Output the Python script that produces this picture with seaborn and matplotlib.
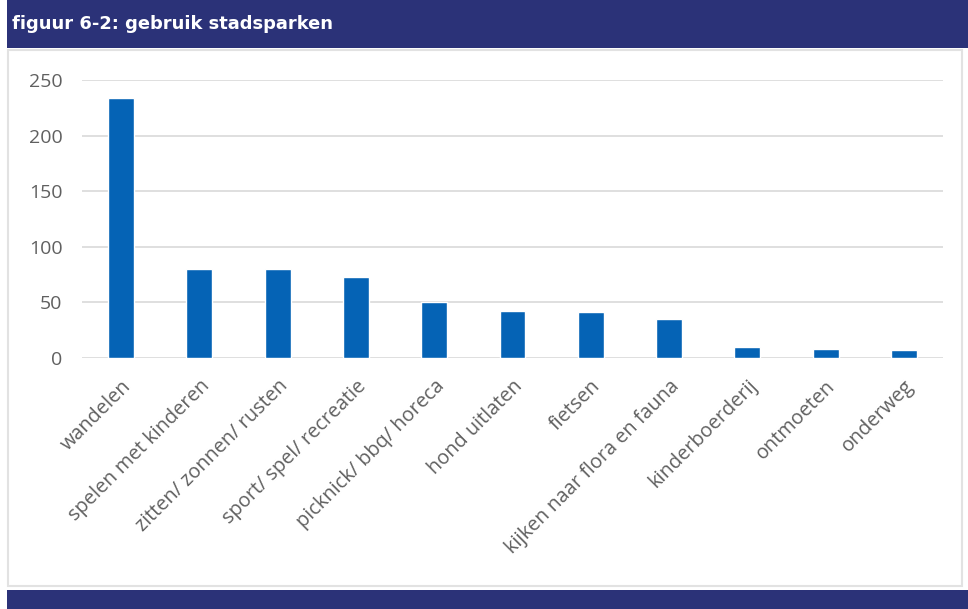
import matplotlib
matplotlib.use("Agg")
import matplotlib.pyplot as plt
import seaborn as sns
import pandas as pd
from matplotlib.patches import Rectangle

# Park usage counts per activity
activities = [
    "wandelen", "spelen met kinderen", "zitten/ zonnen/ rusten",
    "sport/ spel/ recreatie", "picknick/ bbq/ horeca", "hond uitlaten",
    "fietsen", "kijken naar flora en fauna", "kinderboerderij",
    "ontmoeten", "onderweg",
]
counts = [234, 80, 80, 73, 50, 42, 41, 35, 10, 8, 7]
y_ticks = [0, 50, 100, 150, 200, 250]

title = "figuur 6-2: gebruik stadsparken"

BANNER = "#2b3278"
BAR = "#0563b5"
TEXT = "#606060"
GRID = "#d9d9d9"

sns.set_theme(style="white")
plt.rcParams["font.family"] = ["Open Sans", "DejaVu Sans"]

df = pd.DataFrame({"activiteit": activities, "aantal": counts})

fig = plt.figure(figsize=(9.68, 6.09), dpi=100)
fig.patch.set_facecolor("white")

W, H = 968, 609
# Header and footer bands
fig.add_artist(Rectangle((7 / W, 1 - 48 / H), 1 - 7 / W, 48 / H,
                         transform=fig.transFigure, facecolor=BANNER,
                         edgecolor="none", zorder=0))
fig.add_artist(Rectangle((7 / W, 0), 1 - 7 / W, 19 / H,
                         transform=fig.transFigure, facecolor=BANNER,
                         edgecolor="none", zorder=0))
# Chart panel frame
fig.add_artist(Rectangle((7.5 / W, 23 / H), (962 - 7.5) / W, (559 - 23) / H,
                         transform=fig.transFigure, facecolor="white",
                         edgecolor="#e2e2e2", linewidth=1.5, zorder=0))
fig.text(12 / W, 1 - 24 / H, title, color="white", fontsize=12.9,
         fontweight="bold", family="DejaVu Sans", va="center", ha="left")

ax = fig.add_axes([82 / W, 251 / H, (943 - 82) / W, (358 - 80) / H])
ax.set_facecolor("none")
sns.barplot(data=df, x="activiteit", y="aantal", color=BAR, width=0.33,
            saturation=1, ax=ax, zorder=3)

ax.set_ylim(0, 250)
ax.set_xlim(-0.5, len(activities) - 0.5)
ax.set_yticks(y_ticks)
ax.set_yticklabels([str(v) for v in y_ticks], color=TEXT, fontsize=14)
ax.tick_params(axis="y", length=0, pad=14)
ax.tick_params(axis="x", length=0, pad=13)
ax.set_xticks(range(len(activities)))
ax.set_xticklabels(activities, rotation=45, ha="right",
                   rotation_mode="anchor", color=TEXT, fontsize=14.3)
ax.yaxis.grid(True, color=GRID, linewidth=1.2, zorder=0)
ax.set_axisbelow(True)
for s in ax.spines.values():
    s.set_visible(False)
ax.set_xlabel("")
ax.set_ylabel("")

fig.savefig("out.png", dpi=100)
